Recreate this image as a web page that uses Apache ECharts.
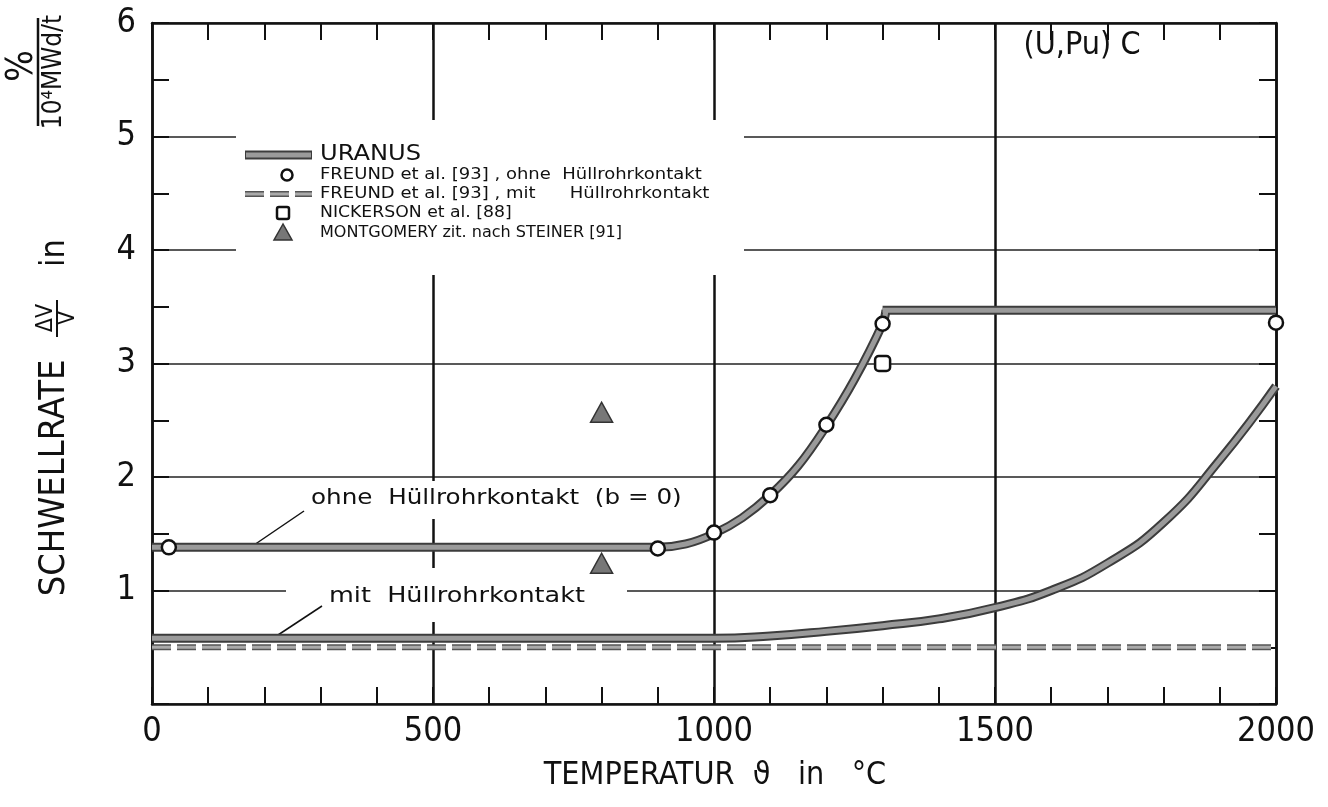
<!DOCTYPE html>
<html>
<head>
<meta charset="utf-8">
<script src="https://cdn.jsdelivr.net/npm/echarts@6/dist/echarts.min.js"></script>
<style>
  html, body { margin: 0; padding: 0; background: #ffffff; }
  #chart { width: 1328px; height: 807px; }
</style>
</head>
<body>
<div id="chart"></div>
<script>
// Swelling rate of (U,Pu)C fuel versus temperature
const FONT = "'DejaVu Sans Condensed','Liberation Sans Narrow','DejaVu Sans',sans-serif";
const FONT_WIDE = "'DejaVu Sans','Liberation Sans',sans-serif";

// URANUS calculation, no cladding contact (b = 0): rising part
const uranusOhneRise = [
  [0, 1.38], [900, 1.38], [950, 1.41], [1000, 1.50], [1050, 1.64], [1100, 1.84],
  [1150, 2.10], [1200, 2.45], [1250, 2.86], [1300, 3.35], [1306, 3.47]
];
// URANUS calculation, no cladding contact: plateau
const uranusOhnePlateau = [[1300, 3.47], [2000, 3.47]];
// URANUS calculation, with cladding contact
const uranusMit = [
  [0, 0.58], [1000, 0.58], [1100, 0.60], [1200, 0.64], [1300, 0.69], [1400, 0.75],
  [1500, 0.85], [1600, 1.00], [1700, 1.24], [1800, 1.60], [1900, 2.15], [2000, 2.80]
];
// FREUND et al. [93], without cladding contact
const freundOhne = [
  [30, 1.38], [900, 1.37], [1000, 1.51], [1100, 1.84], [1200, 2.46], [1300, 3.35], [2000, 3.36]
];
// FREUND et al. [93], with cladding contact
const freundMit = [[0, 0.50], [2000, 0.50]];
// NICKERSON et al. [88]
const nickerson = [[1300, 3.00]];
// MONTGOMERY cited after STEINER [91]
const montgomery = [[800, 2.57], [800, 1.24]];

const xMin = 0, xMax = 2000, xStep = 500;
const yMin = 0, yMax = 6, yStep = 1;

const chart = echarts.init(document.getElementById('chart'), null, { renderer: 'canvas' });

const ink = '#111111';
const bandDark = '#3c3c3c';
const bandLight = '#9a9a9a';

function band(name, data, z, smooth) {
  return [
    { name: name + '-edge', type: 'line', data: data, showSymbol: false, smooth: smooth,
      lineStyle: { color: bandDark, width: 9, cap: 'butt' }, z: z, silent: true },
    { name: name, type: 'line', data: data, showSymbol: false, smooth: smooth,
      lineStyle: { color: bandLight, width: 5, cap: 'butt' }, z: z + 1, silent: true }
  ];
}

const xAxisCommon = {
  type: 'value', min: xMin, max: xMax, interval: xStep,
  axisLine: { show: true, onZero: false, lineStyle: { color: ink, width: 2.5 } },
  axisTick: { show: true, inside: true, length: 17, lineStyle: { color: ink, width: 2 } },
  minorTick: { show: true, splitNumber: 5, length: 17, lineStyle: { color: ink, width: 2 } }
};
const yAxisCommon = {
  type: 'value', min: yMin, max: yMax, interval: yStep,
  axisLine: { show: true, onZero: false, lineStyle: { color: ink, width: 2.5 } },
  axisTick: { show: true, inside: true, length: 17, lineStyle: { color: ink, width: 2 } },
  minorTick: { show: true, splitNumber: 2, length: 17, lineStyle: { color: ink, width: 2 } }
};

// legend rows (stencil lettering is wide, so the text is stretched horizontally)
const legendX = 320;
const legendRows = [
  { y: 155, text: 'URANUS', size: 21, sx: 1.15 },
  { y: 175, text: 'FREUND et al. [93] , ohne  Hüllrohrkontakt', size: 15, sx: 1.2 },
  { y: 194, text: 'FREUND et al. [93] , mit      Hüllrohrkontakt', size: 15, sx: 1.2 },
  { y: 213, text: 'NICKERSON et al. [88]', size: 15, sx: 1.15 },
  { y: 233, text: 'MONTGOMERY zit. nach STEINER [91]', size: 15, sx: 1.07 }
];

const graphics = [];
// white backing of the legend block
graphics.push({ type: 'rect', shape: { x: 236, y: 120, width: 508, height: 155 },
  style: { fill: '#ffffff' }, z: 1 });
legendRows.forEach(r => {
  graphics.push({ type: 'text', x: legendX, y: r.y, scaleX: r.sx, z: 5,
    style: { text: r.text, fill: ink, font: r.size + 'px ' + FONT_WIDE, verticalAlign: 'middle', align: 'left' } });
});
// legend samples
graphics.push({ type: 'line', z: 5, shape: { x1: 245, y1: 155, x2: 312, y2: 155 },
  style: { stroke: bandDark, lineWidth: 9 } });
graphics.push({ type: 'line', z: 6, shape: { x1: 246, y1: 155, x2: 311, y2: 155 },
  style: { stroke: bandLight, lineWidth: 5 } });
graphics.push({ type: 'circle', z: 5, shape: { cx: 287, cy: 175, r: 5.5 },
  style: { fill: '#fff', stroke: ink, lineWidth: 2.5 } });
graphics.push({ type: 'line', z: 5, shape: { x1: 245, y1: 194, x2: 312, y2: 194 },
  style: { stroke: '#555', lineWidth: 6, lineDash: [19, 6] } });
graphics.push({ type: 'line', z: 6, shape: { x1: 245, y1: 194, x2: 312, y2: 194 },
  style: { stroke: '#aaa', lineWidth: 3, lineDash: [19, 6] } });
graphics.push({ type: 'rect', z: 5, shape: { x: 277, y: 207, width: 12, height: 12, r: 2 },
  style: { fill: '#fff', stroke: ink, lineWidth: 2.5 } });
graphics.push({ type: 'polygon', z: 5, shape: { points: [[283, 224], [274, 240], [292, 240]] },
  style: { fill: '#777', stroke: '#333', lineWidth: 1.5 } });

// curve annotations: white backing, text and leader lines
graphics.push({ type: 'rect', z: 1, shape: { x: 300, y: 481, width: 392, height: 38 }, style: { fill: '#fff' } });
graphics.push({ type: 'text', x: 311, y: 498, scaleX: 1.12, z: 2,
  style: { text: 'ohne  Hüllrohrkontakt  (b = 0)', fill: ink, font: '22px ' + FONT_WIDE,
    verticalAlign: 'middle', align: 'left' } });
graphics.push({ type: 'line', z: 2, shape: { x1: 304, y1: 511, x2: 254, y2: 545 },
  style: { stroke: ink, lineWidth: 1.5 } });
graphics.push({ type: 'rect', z: 1, shape: { x: 286, y: 568, width: 341, height: 54 }, style: { fill: '#fff' } });
graphics.push({ type: 'text', x: 329, y: 596, scaleX: 1.16, z: 2,
  style: { text: 'mit  Hüllrohrkontakt', fill: ink, font: '22px ' + FONT_WIDE,
    verticalAlign: 'middle', align: 'left' } });
graphics.push({ type: 'line', z: 2, shape: { x1: 322, y1: 606, x2: 278, y2: 635 },
  style: { stroke: ink, lineWidth: 1.5 } });

// material label
graphics.push({ type: 'text', x: 1082, y: 46, z: 4,
  style: { text: '(U,Pu) C', fill: ink, font: '32px ' + FONT, verticalAlign: 'middle', align: 'center' } });

// x axis title
graphics.push({ type: 'text', x: 715, y: 776, z: 4,
  style: { text: 'TEMPERATUR  ϑ   in   °C', fill: ink, font: '32px ' + FONT, verticalAlign: 'middle', align: 'center' } });

// y axis title, rotated to read bottom to top
const rot = Math.PI / 2;
graphics.push({ type: 'text', x: 55, y: 478, rotation: rot, z: 4,
  style: { text: 'SCHWELLRATE', fill: ink, font: '36px ' + FONT, verticalAlign: 'middle', align: 'center' } });
graphics.push({ type: 'text', x: 46, y: 318, rotation: rot, z: 4,
  style: { text: 'ΔV', fill: ink, font: '23px ' + FONT, verticalAlign: 'middle', align: 'center' } });
graphics.push({ type: 'line', z: 4, shape: { x1: 57, y1: 300, x2: 57, y2: 337 },
  style: { stroke: ink, lineWidth: 2 } });
graphics.push({ type: 'text', x: 68, y: 318, rotation: rot, z: 4,
  style: { text: 'V', fill: ink, font: '23px ' + FONT, verticalAlign: 'middle', align: 'center' } });
graphics.push({ type: 'text', x: 55, y: 253, rotation: rot, z: 4,
  style: { text: 'in', fill: ink, font: '34px ' + FONT, verticalAlign: 'middle', align: 'center' } });
graphics.push({ type: 'text', x: 22, y: 66, rotation: rot, z: 4,
  style: { text: '%', fill: ink, font: '37px ' + FONT, verticalAlign: 'middle', align: 'center' } });
graphics.push({ type: 'line', z: 4, shape: { x1: 38, y1: 18, x2: 38, y2: 126 },
  style: { stroke: ink, lineWidth: 2.5 } });
graphics.push({ type: 'text', x: 54, y: 72, rotation: rot, z: 4,
  style: { text: '10⁴MWd/t', fill: ink, font: '26px ' + FONT, verticalAlign: 'middle', align: 'center' } });

const option = {
  backgroundColor: '#ffffff',
  animation: false,
  grid: { left: 152, right: 52, top: 23, bottom: 103, containLabel: false },
  xAxis: [
    Object.assign({}, xAxisCommon, {
      position: 'bottom',
      axisLabel: { show: true, color: ink, fontSize: 34, fontFamily: FONT, margin: 11,
        formatter: v => String(v) },
      splitLine: { show: true, lineStyle: { color: ink, width: 2.5 } }
    }),
    Object.assign({}, xAxisCommon, {
      position: 'top', axisLabel: { show: false }, splitLine: { show: false }
    })
  ],
  yAxis: [
    Object.assign({}, yAxisCommon, {
      position: 'left',
      axisLabel: { show: true, color: ink, fontSize: 34, fontFamily: FONT, margin: 16,
        formatter: v => (v === 0 ? '' : String(v)) },
      splitLine: { show: true, lineStyle: { color: '#222', width: 1.5 } }
    }),
    Object.assign({}, yAxisCommon, {
      position: 'right', axisLabel: { show: false }, splitLine: { show: false }
    })
  ],
  graphic: graphics,
  series: [
    ...band('URANUS mit', uranusMit, 3, 0.5),
    ...band('URANUS ohne', uranusOhneRise, 3, 0.4),
    ...band('URANUS ohne plateau', uranusOhnePlateau, 3, false),
    { name: 'FREUND mit-edge', type: 'line', data: freundMit, showSymbol: false, silent: true,
      lineStyle: { color: '#555', width: 6, type: [19, 6], cap: 'butt' }, z: 3 },
    { name: 'FREUND mit', type: 'line', data: freundMit, showSymbol: false, silent: true,
      lineStyle: { color: '#aaa', width: 3, type: [19, 6], cap: 'butt' }, z: 4 },
    { name: 'FREUND ohne', type: 'scatter', data: freundOhne, symbol: 'circle', symbolSize: 14,
      itemStyle: { color: '#fff', borderColor: ink, borderWidth: 2.5, opacity: 1 }, z: 6 },
    { name: 'NICKERSON', type: 'scatter', data: nickerson, symbol: 'roundRect', symbolSize: 15,
      itemStyle: { color: '#fff', borderColor: ink, borderWidth: 2.5, opacity: 1 }, z: 6 },
    { name: 'MONTGOMERY', type: 'scatter', data: montgomery, symbol: 'triangle', symbolSize: [22, 20],
      itemStyle: { color: '#777', borderColor: '#333', borderWidth: 1.5, opacity: 1 }, z: 6 }
  ]
};

chart.setOption(option);
</script>
</body>
</html>
